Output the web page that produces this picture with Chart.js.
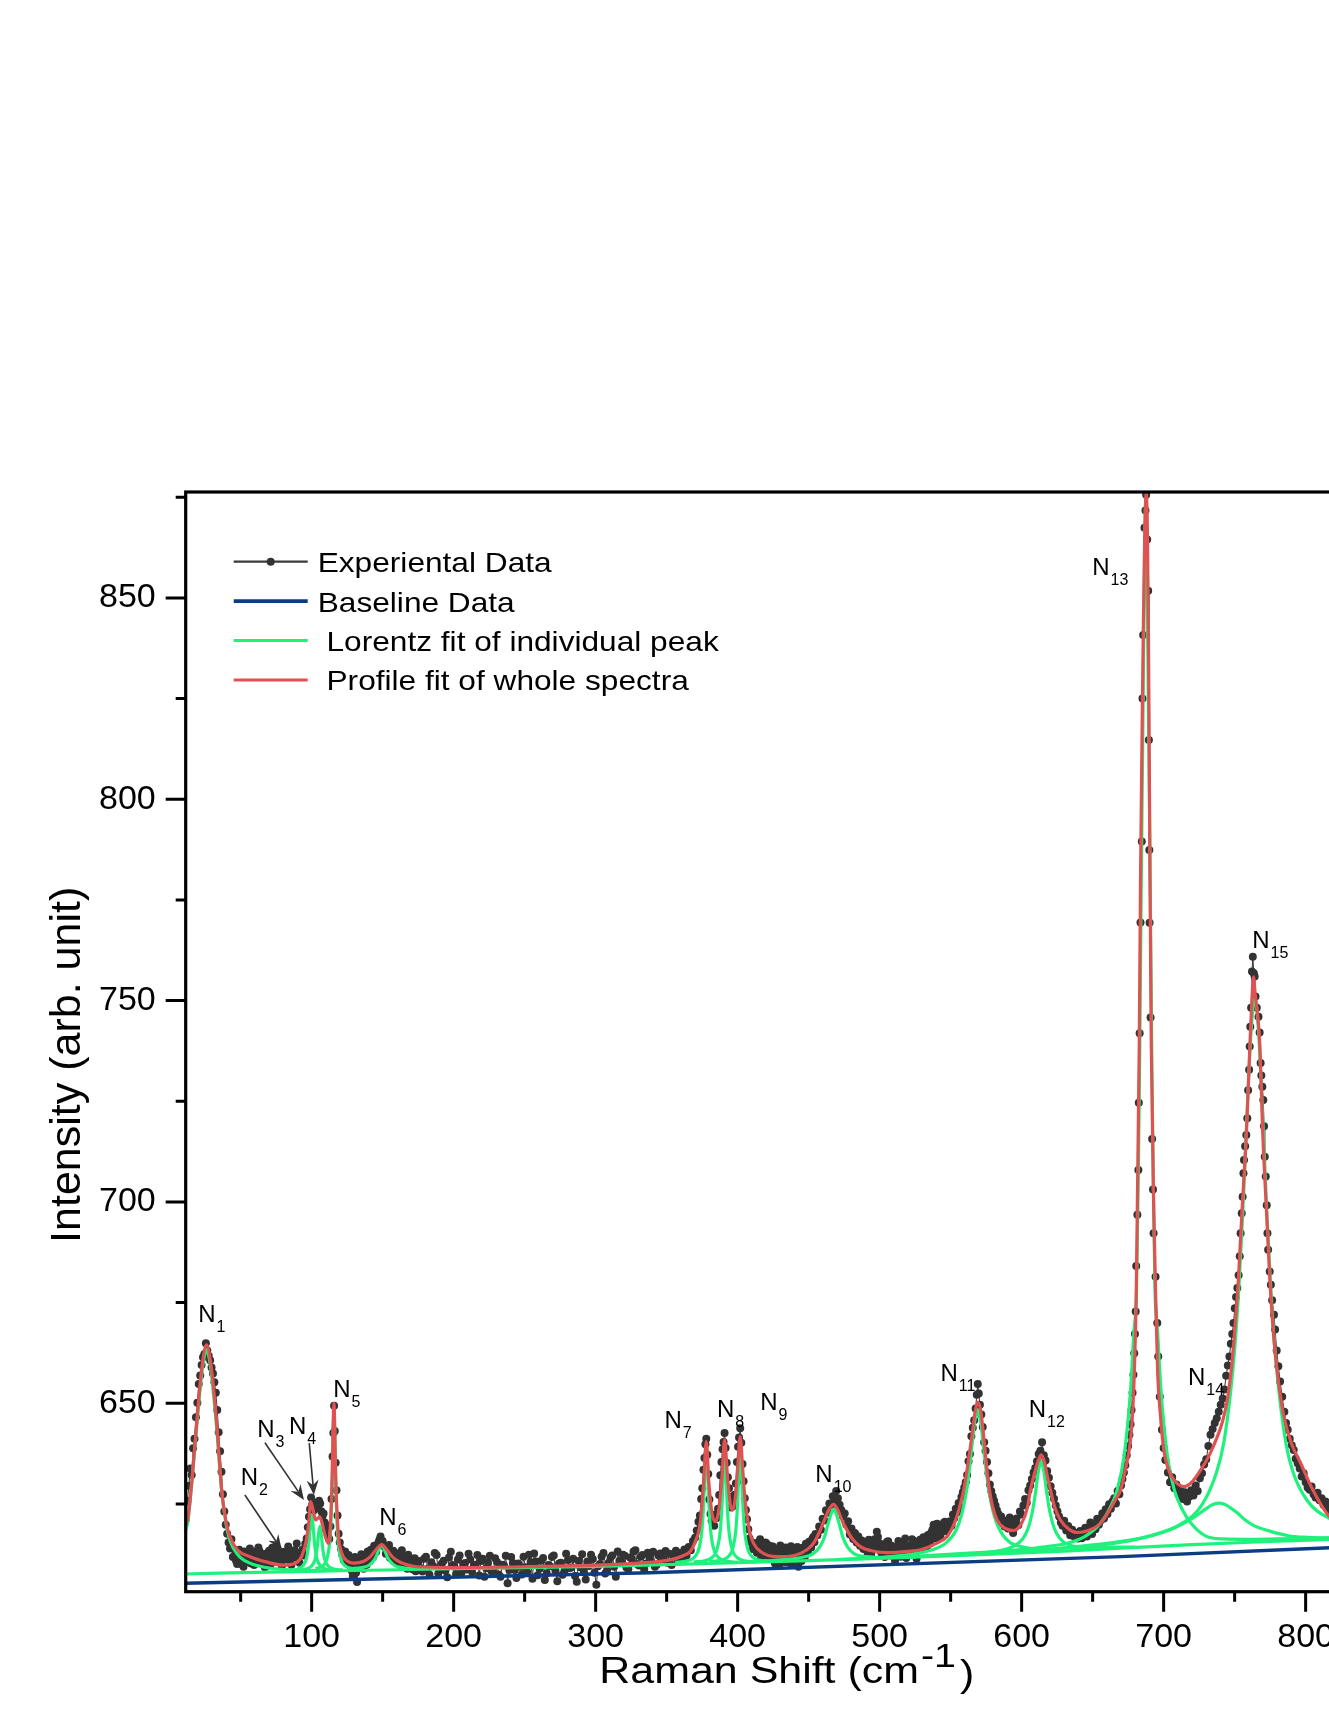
<!DOCTYPE html>
<html lang="en">
<head>
<meta charset="UTF-8">
<title>Raman spectrum - Lorentz peak fit</title>
<script src="https://cdn.jsdelivr.net/npm/chart.js"></script>
<style>
  html, body { margin: 0; padding: 0; background: #fff; overflow: hidden; }
  #wrap { position: relative; width: 1420px; height: 1719px; }
</style>
</head>
<body>
<div id="wrap"><canvas id="ramanChart" width="1420" height="1719"></canvas></div>
<script>
const FONT = "'Liberation Sans', Arial, Helvetica, sans-serif";

// axis ranges and ticks
const xRange = [11.3, 858];
const yRange = [603.2, 876.3];
const xTickValues = [50, 100, 150, 200, 250, 300, 350, 400, 450, 500, 550, 600, 650, 700, 750, 800, 850];
const yTickValues = [625, 650, 675, 700, 725, 750, 775, 800, 825, 850, 875];

// measured spectrum [Raman shift, intensity]
const experimental = [
  [11.5, 621.2], [12.5, 625.8], [13.5, 629.5], [14.5, 633.8], [15.5, 632.2], [16.5, 638.8], [17.5, 641.2], [18.5, 646.5],
  [19.5, 650.1], [20.5, 654.8], [21.5, 656.9], [22.5, 659.5], [23.5, 661.4], [24.5, 662.2], [25.5, 664.9], [26.5, 663.1],
  [27.5, 661.8], [28.5, 660.7], [29.5, 658.9], [30.5, 657.4], [31.5, 655.2], [32.5, 652.6], [33.5, 648.3], [34.5, 642.8],
  [35.5, 638.1], [36.5, 633.0], [37.5, 627.4], [38.5, 623.1], [39.5, 619.8], [40.5, 617.6], [41.5, 615.4], [42.5, 613.9],
  [43.5, 616.2], [44.5, 611.8],
  [46, 612.4], [47.5, 610.1], [49, 613.6], [50.5, 611.2], [52, 609.4], [53.5, 612.8], [55, 610.6], [56.5, 613.9],
  [58, 611.5], [59.5, 609.8], [61, 612.1], [62.5, 614.2], [64, 610.9], [65.5, 612.5], [67, 609.3], [68.5, 611.7],
  [70, 613.4], [71.5, 610.2], [73, 612.9], [74.5, 611.1], [76, 614.0], [77.5, 612.2], [79, 609.6], [80.5, 613.1],
  [82, 611.4], [83.5, 614.4], [85, 610.8], [86.5, 612.6], [88, 613.5], [89.5, 615.2],
  [90.5, 611.8], [91.5, 610.4], [92.5, 612.9], [93.5, 613.6], [94.5, 612.2], [95.5, 615.1], [96.5, 616.4], [97.3, 619.2],
  [98.1, 621.8], [98.9, 623.7], [99.6, 626.6], [100.4, 624.9], [101.2, 623.3], [102, 624.1], [102.8, 625.3], [103.6, 624.6],
  [104.4, 623.9], [105.2, 625.8], [106, 625.1], [106.8, 623.2], [107.6, 621.9], [108.4, 622.6], [109.2, 620.4], [110, 618.7],
  [110.8, 619.5], [111.6, 617.1], [112.4, 616.3], [113.2, 619.4], [114, 626.2], [114.7, 636.8], [115.3, 642.6], [115.8, 649.4],
  [116.3, 643.1], [116.9, 635.2], [117.5, 628.4], [118.2, 622.1], [119, 617.6], [119.8, 615.4], [120.7, 613.8], [121.6, 612.3],
  [122.6, 611.1], [123.6, 613.2], [124.6, 610.4],
  [126, 612.3], [127.5, 609.6], [129, 607.1], [130.5, 611.8], [132, 605.6], [133.5, 610.2], [135, 612.5], [136.5, 608.9],
  [138, 611.6], [139.5, 613.2], [141, 610.8], [142.5, 612.9], [144, 614.6], [145.5, 613.1], [147, 615.4], [148.5, 616.9],
  [150, 615.8], [151.5, 614.3], [153, 613.2], [154.5, 614.8], [156, 612.1], [157.5, 613.4], [159, 611.2], [160.5, 612.7],
  [162, 610.3], [163.5, 613.5], [165, 611.6], [166.5, 609.2], [168, 612.4], [169.5, 610.7], [171, 608.8], [172.5, 611.5],
  [174, 609.9],
  [175.5, 610.8], [178, 608.2], [180.5, 611.9], [183, 607.4], [185.5, 609.6], [188, 612.3], [190.5, 608.7], [193, 610.9],
  [195.5, 606.8], [198, 613.1], [200.5, 609.4], [203, 611.2], [205.5, 607.9], [208, 610.3], [210.5, 612.6], [213, 608.1],
  [215.5, 609.9], [218, 607.2], [220.5, 611.4], [223, 609.0], [225.5, 612.1], [228, 608.4], [230.5, 610.6], [233, 606.9],
  [235.5, 609.7], [238, 605.3], [240.5, 611.8], [243, 608.6], [245.5, 610.2], [248, 607.5], [250.5, 609.3], [253, 612.4],
  [255.5, 606.4], [258, 610.7], [260.5, 608.9], [263, 611.6], [265.5, 607.8], [268, 609.5], [270.5, 612.2], [273, 605.8],
  [275.5, 610.4], [278, 608.3], [280.5, 611.1], [283, 609.2], [285.5, 607.1], [288, 610.8], [290.5, 612.5], [293, 606.2],
  [295.5, 609.6], [298, 611.3], [300.5, 604.9], [303, 610.1], [305.5, 612.8], [308, 608.5], [310.5, 611.7], [313, 609.4],
  [315.5, 613.2], [318, 610.6], [320.5, 612.1], [323, 608.8], [325.5, 611.4], [328, 613.5], [330.5, 609.7], [333, 612.3],
  [335.5, 610.2], [338, 611.6], [340.5, 613.1], [343, 609.9], [345.5, 612.7], [348, 611.3],
  [350.5, 610.4], [352, 612.6], [353.5, 609.8], [355, 611.9], [356.5, 613.4], [358, 610.7], [359.5, 612.8], [361, 611.2],
  [362.5, 613.7], [364, 612.1], [365.5, 614.3], [367, 613.5], [368.5, 615.8], [370, 616.6], [371.2, 618.4], [372.4, 620.6],
  [373.4, 622.1], [374.3, 626.2], [375.1, 628.9], [375.9, 633.5], [376.6, 636.4], [377.3, 639.8], [377.9, 641.2],
  [378.6, 637.2], [379.3, 632.4], [380.1, 626.1], [380.9, 622.5], [381.7, 620.8], [382.6, 621.9], [383.5, 619.6], [384.4, 622.4],
  [385.3, 621.5], [386.2, 623.8], [387, 627.2], [387.8, 632.1], [388.6, 635.4], [389.4, 638.6], [390.1, 640.4], [390.8, 642.6],
  [391.5, 638.9], [392.3, 635.2], [393.1, 631.6], [393.9, 628.9], [394.7, 626.7], [395.5, 624.1], [396.3, 625.8], [397.1, 624.5],
  [397.9, 627.3], [398.7, 630.1], [399.5, 635.4], [400.3, 639.2], [401, 641.5], [401.8, 643.8], [402.6, 640.2], [403.4, 634.9],
  [404.2, 630.6], [405, 626.4], [405.8, 623.5], [406.6, 621.2], [407.5, 618.7], [408.4, 616.4], [409.4, 615.5], [410.4, 613.8],
  [411.4, 614.6],
  [412.8, 615.3], [414.3, 613.6], [415.8, 616.2], [417.3, 614.1], [418.8, 612.4], [420.3, 615.2], [421.8, 613.3], [423.3, 611.8],
  [424.8, 614.4], [426.3, 610.2], [427.8, 612.8], [429.3, 609.6], [430.8, 613.1], [432.3, 611.4], [433.8, 614.2], [435.3, 610.5],
  [436.8, 612.6], [438.3, 609.8], [439.8, 613.5], [441.3, 611.2], [442.8, 609.4], [444.3, 612.3], [445.8, 614.1], [447.3, 611.9],
  [448.8, 613.8], [450.3, 615.6], [451.8, 614.2], [453.3, 616.8], [454.8, 617.5],
  [456.2, 617.2], [457.4, 619.4], [458.6, 618.6], [459.8, 621.3], [461, 620.9], [462.2, 623.4], [463.4, 622.8], [464.6, 625.1],
  [465.8, 624.6], [467, 626.9], [468.2, 625.7], [469.4, 628.2], [470.6, 626.4], [471.8, 624.8], [473, 623.5], [474.2, 621.9],
  [475.4, 622.6], [476.6, 619.8], [477.8, 620.7], [479, 617.4], [480.2, 618.9], [481.4, 616.3], [482.6, 617.8], [483.8, 615.4],
  [485, 616.9], [486.2, 614.6], [487.4, 615.9], [488.6, 613.8],
  [490, 615.1], [491.6, 612.6], [493.2, 614.8], [494.8, 613.4], [496.4, 616.2], [498, 618.1], [499.6, 615.3], [501.2, 612.8],
  [502.8, 614.6], [504.4, 613.1], [506, 615.7], [507.6, 612.2], [509.2, 613.9], [510.8, 610.9], [512.4, 614.3], [514, 612.6],
  [515.6, 615.4], [517.2, 613.2], [518.8, 611.6], [520.4, 614.7], [522, 613.5], [523.6, 615.9], [525.2, 612.9], [526.8, 614.2],
  [528.4, 616.1], [530, 613.7], [531.6, 615.8], [533.2, 614.4], [534.8, 616.6], [536.4, 617.9], [538, 619.8], [539.6, 616.4],
  [541.2, 618.6], [542.8, 617.2], [544.4, 619.1], [546, 620.6], [547.6, 619.4],
  [548.6, 618.9], [549.6, 620.7], [550.6, 619.6], [551.6, 622.4], [552.6, 621.5], [553.6, 623.8], [554.6, 622.9], [555.6, 625.2],
  [556.6, 624.1], [557.6, 626.7], [558.6, 627.9], [559.6, 629.1], [560.6, 630.4], [561.6, 632.2], [562.6, 635.6], [563.6, 637.4],
  [564.6, 641.8], [565.6, 643.9], [566.6, 645.8], [567.6, 648.7], [568.4, 652.1], [569.1, 654.8], [569.8, 652.4], [570.6, 649.6],
  [571.6, 647.2], [572.6, 644.1], [573.6, 640.3], [574.6, 638.2], [575.6, 635.4], [576.6, 632.6], [577.6, 629.8], [578.6, 628.2],
  [579.6, 626.9], [580.6, 625.8], [581.6, 624.6], [582.6, 623.4], [583.6, 622.5], [584.6, 621.2], [585.6, 621.9], [586.8, 620.1],
  [588, 619.4], [589.2, 620.8], [590.4, 618.9], [591.6, 621.6], [592.8, 620.3], [594, 617.8], [595.2, 619.2],
  [596.4, 621.4], [597.6, 619.7], [598.8, 623.1], [600, 622.4], [601.2, 624.6], [602.4, 626.2], [603.6, 625.3], [604.8, 628.4],
  [606, 629.6], [607.2, 631.2], [608.4, 632.8], [609.6, 633.9], [610.8, 635.6], [612, 637.4], [613.2, 638.2], [614.4, 640.3],
  [615.6, 637.1], [616.8, 635.8], [618, 633.2], [619.2, 631.5], [620.4, 629.4], [621.6, 627.8], [622.8, 626.3], [624, 624.6],
  [625.2, 623.2], [626.4, 621.9], [627.6, 620.4], [628.8, 619.6], [630, 620.8], [631.4, 618.4], [632.8, 619.5], [634.2, 617.2],
  [635.6, 618.6], [637, 616.9], [638.4, 617.8], [639.8, 616.4],
  [641.2, 618.3], [642.4, 616.5], [643.6, 617.6], [644.8, 619.1], [646, 616.9], [647.2, 618.2], [648.4, 620.4], [649.6, 617.5],
  [650.8, 619.6], [652, 618.7], [653.2, 621.3], [654.4, 619.8], [655.6, 620.9], [656.8, 622.6], [658, 621.4], [659.2, 623.7],
  [660.4, 622.5], [661.6, 624.9], [662.8, 623.8], [664, 625.6], [665.2, 626.4], [666.4, 625.1], [667.6, 628.2], [668.8, 627.4],
  [670, 629.6], [671, 631.2], [672, 632.8], [673, 634.6], [674, 637.1], [675, 639.4], [675.9, 642.2], [676.7, 644.8],
  [677.4, 648.3], [678.1, 652.6], [678.7, 657.1], [679.3, 662.4], [679.8, 667.2], [680.3, 672.8],
  [680.7, 684.1], [681.5, 696.8], [682.2, 707.9], [682.5, 724.6], [683.1, 741.9], [683.7, 769.4], [684.6, 789.5], [685.1, 825.0],
  [685.6, 840.8], [686.5, 867.4], [687.2, 871.7], [687.7, 875.6], [688.4, 864.5], [689.1, 851.8], [689.6, 814.7], [689.9, 787.4],
  [690.1, 769.3], [690.8, 745.8], [691.9, 715.6], [692.5, 703.1], [692.9, 692.2], [694.3, 681.4], [695.5, 669.9], [696.2, 661.6],
  [697.3, 651.6], [698.8, 643.4], [700.0, 638.9], [701.2, 635.9],
  [703, 632.8], [704.5, 630.4], [706, 631.6], [707.5, 628.9], [709, 629.8], [710.5, 627.4], [712, 628.5], [713.5, 626.2],
  [715, 627.9], [716.5, 625.6], [718, 626.8], [719.5, 628.4], [721, 627.1], [722.5, 629.6], [724, 628.2], [725.5, 631.4],
  [727, 632.6], [728.5, 634.8], [730, 636.1], [731.5, 639.4], [733, 642.2], [734.5, 643.6], [736, 645.1], [737.4, 646.3],
  [738.8, 647.9], [740.2, 649.6], [741.6, 651.2], [742.8, 653.4], [744, 656.8], [745.2, 659.4], [746.3, 661.6], [747.3, 664.8],
  [748.3, 667.2], [749.2, 669.9], [750.1, 673.6], [751, 676.4], [751.9, 678.6], [752.8, 681.8], [753.6, 686.5], [754.2, 692.2],
  [755, 697.2], [755.6, 701.3], [756.2, 707.1], [756.6, 710.4], [757.4, 713.8], [758.2, 716.6], [758.9, 720.8], [759.5, 727.7],
  [760.2, 732.8], [760.6, 738.6], [761, 743.5], [761.6, 748.2], [762.2, 757.2], [762.8, 760.9], [763.5, 756.8], [764.1, 756.0],
  [764.7, 751.0], [765.6, 748.2], [766.8, 746.0], [767.6, 742.1], [768.3, 734.5], [768.8, 731.4], [769.5, 728.6], [770.2, 725.3],
  [770.7, 718.8], [771.2, 711.2], [771.9, 706.3], [772.6, 699.2], [773.1, 692.2], [773.6, 688.1], [774.7, 682.7], [775.5, 679.4],
  [776.4, 675.6], [777.7, 672.0], [778.5, 668.3], [779.6, 663.1], [780.8, 659.2], [782, 655.4], [783.5, 651.6], [785, 647.9],
  [786.2, 645.1], [787.4, 643.4], [788.8, 641.2], [790.2, 639.6], [791.6, 638.4], [793, 636.2], [794.4, 635.1], [795.8, 633.8],
  [797.2, 631.8], [798.6, 632.6], [800, 630.4], [801.4, 629.1], [802.8, 628.5], [804.2, 629.3], [805.6, 627.4], [807, 626.6],
  [808.4, 627.8], [809.8, 625.9], [811.2, 626.4], [812.6, 624.8], [814, 625.6], [815.4, 623.9], [816.8, 624.6], [818.2, 622.8],
  [820, 623.4], [822, 621.6], [824, 622.2], [826, 620.7], [828, 621.3], [830, 619.8], [833, 620.4], [836, 618.9],
  [839, 619.6], [842, 618.2], [845, 618.8], [848, 617.5], [851, 618.1], [854, 616.9], [857, 617.4]
];

// further readings from the dense flat stretches of the spectrum
const experimentalFill = [
  [46.75, 610.9], [48.25, 612.7], [49.75, 611.6], [51.25, 609.9], [52.75, 613.2], [54.25, 611.1], [55.75, 612.4], [57.25, 610.2],
  [58.75, 613.1], [60.25, 611.9], [61.75, 610.5], [63.25, 613.3], [64.75, 611.8], [66.25, 610.1], [67.75, 612.6], [69.25, 609.7],
  [70.75, 612.2], [72.25, 614.1], [73.75, 611.5], [75.25, 613.6], [76.75, 612.3], [78.25, 610.6], [79.75, 612.8], [81.25, 611.2],
  [82.75, 613.2], [84.25, 612.1], [85.75, 609.9], [87.25, 611.7],
  [126.75, 610.6], [128.25, 608.4], [129.75, 610.3], [131.25, 607.9], [132.75, 611.4], [134.25, 609.6], [135.75, 610.7], [137.25, 612.2],
  [138.75, 609.9], [140.25, 611.4], [141.75, 613.6], [143.25, 611.8], [144.75, 613.9], [146.25, 614.6], [147.75, 616.1], [149.25, 615.2],
  [150.75, 614.8], [152.25, 612.6], [153.75, 613.9], [155.25, 611.6], [156.75, 612.9], [158.25, 610.8], [159.75, 611.5], [161.25, 612.2],
  [162.75, 609.8], [164.25, 610.9], [165.75, 611.8], [167.25, 608.9], [168.75, 610.6], [170.25, 609.4], [171.75, 611.1], [173.25, 608.3],
  [176.7, 609.1], [179.2, 611.4], [181.7, 608.9], [184.2, 610.5], [186.7, 612.8], [189.2, 607.7], [191.7, 610.2], [194.2, 608.4],
  [196.7, 611.7], [199.2, 609.8], [201.7, 607.6], [204.2, 612.2], [206.7, 610.1], [209.2, 608.7], [211.7, 611.2], [214.2, 609.6],
  [216.7, 612.3], [219.2, 610.8], [221.7, 606.9], [224.2, 610.4], [226.7, 608.2], [229.2, 611.5], [231.7, 607.5], [234.2, 609.9],
  [236.7, 612.1], [239.2, 608.6], [241.7, 610.3], [244.2, 606.6], [246.7, 609.4], [249.2, 611.9], [251.7, 608.1], [254.2, 610.6],
  [256.7, 612.7], [259.2, 607.3], [261.7, 610.9], [264.2, 606.1], [266.7, 609.8], [269.2, 611.8], [271.7, 608.4], [274.2, 610.2],
  [276.7, 607.4], [279.2, 612.6], [281.7, 609.1], [284.2, 611.4], [286.7, 605.7], [289.2, 609.3], [291.7, 608.2], [294.2, 610.7],
  [296.7, 612.4], [299.2, 607.9], [301.7, 609.5], [304.2, 611.9], [306.7, 607.7], [309.2, 610.4], [311.7, 612.2], [314.2, 606.9],
  [316.7, 610.8], [319.2, 612.4], [321.7, 609.2], [324.2, 611.7], [326.7, 613.2], [329.2, 610.1], [331.7, 611.9], [334.2, 608.7],
  [336.7, 612.9], [339.2, 610.6], [341.7, 609.4], [344.2, 612.2], [346.7, 610.9], [349.2, 613.3],
  [413.55, 612.9], [415.05, 614.8], [416.55, 611.6], [418.05, 613.7], [419.55, 615.4], [421.05, 612.1], [422.55, 614.6], [424.05, 613.0],
  [425.55, 610.9], [427.05, 613.6], [428.55, 611.3], [430.05, 614.7], [431.55, 612.4], [433.05, 610.6], [434.55, 613.2], [436.05, 612.0],
  [437.55, 614.5], [439.05, 611.6], [440.55, 612.9], [442.05, 614.3], [443.55, 613.1], [445.05, 610.8], [446.55, 612.7], [448.05, 615.1],
  [449.55, 613.3], [451.05, 614.9], [452.55, 616.3], [454.05, 615.5],
  [490.8, 613.8], [492.4, 616.1], [494, 612.2], [495.6, 615.4], [497.2, 614.1], [498.8, 616.8], [500.4, 613.6], [502, 614.9],
  [503.6, 611.8], [505.2, 615.6], [506.8, 613.9], [508.4, 614.6], [510, 612.4], [511.6, 613.3], [513.2, 615.8], [514.8, 611.9],
  [516.4, 614.1], [518, 616.4], [519.6, 612.7], [521.2, 613.6], [522.8, 616.2], [524.4, 614.3], [526, 611.4], [527.6, 615.1],
  [529.2, 613.8], [530.8, 616.7], [532.4, 614.5], [534, 617.3], [535.6, 615.2], [537.2, 618.6], [538.8, 617.4], [540.4, 620.1],
  [542, 616.9], [543.6, 618.4], [545.2, 620.3], [546.8, 618.2]
];

const baselineData = [[11.3, 605.3], [338, 607.9], [670, 611.9], [817, 614.1], [858, 614.6]];

const profileFit = [
  [11.3, 619.8], [13, 621.8], [16, 632], [19, 645], [22.5, 658.3], [26, 664.5], [29.5, 658.3], [33.1, 645],
  [36.6, 628.5], [39.5, 621], [42.4, 616.9], [48, 613.5], [56.5, 611.9], [68, 610.6], [80, 609.8], [88, 610.2],
  [93, 612], [96, 615.5], [98, 620.5], [99.3, 625.6], [101, 623.5], [102.8, 621.0], [104.5, 621.5], [105.8, 621.8],
  [107.5, 620], [109.5, 617], [111.7, 615.2], [113, 618.5], [114.3, 630], [115.7, 650], [117, 631], [118.8, 617.5],
  [121, 613], [124.7, 610.9], [130, 610.3], [136.4, 610.7], [141, 611.8], [145, 613.5], [149.3, 614.9], [153, 613.6],
  [156.5, 612], [160, 611], [166, 610], [174, 609.4], [200, 609.2], [250, 609.4], [300, 609.8], [330, 610.3],
  [352.5, 611.1], [362, 612.2], [366.6, 613.2], [370, 615.5], [373.6, 620.2], [376, 630], [377.9, 640.5], [379.8, 630],
  [382, 622.5], [384.2, 620.6], [386.5, 623], [388.8, 631], [390.8, 641], [393, 631], [395, 624.5], [396.5, 623.5],
  [398.5, 627], [400, 634], [401.8, 641.7], [403.5, 634], [405.2, 626], [406.6, 622], [408.5, 618], [411.2, 615.2],
  [416, 613.2], [427.7, 611.9], [440, 612.2], [448.8, 613.6], [454, 615.5], [458.2, 618.5], [462, 621.8], [465, 624],
  [467.6, 624.9], [470.5, 623.5], [474, 620.5], [477, 618.5], [481, 616.2], [486.4, 614.4], [495, 613.3], [505.2, 612.9],
  [520, 613.2], [528.7, 613.6], [540, 615.2], [547.5, 616.9], [553, 620.5], [556.5, 624.5], [559.2, 628.5], [562, 634.5],
  [565, 642], [567.3, 648], [569.1, 650.3], [571, 648.5], [573.5, 641], [575.7, 633], [578.5, 626], [582.7, 621],
  [588, 619], [594.4, 618.4], [600, 620.2], [604, 624], [606.2, 628.5], [609, 632.5], [611.5, 635.5], [613.7, 637.2],
  [616, 635.5], [618, 632], [620.3, 628.5], [623, 624.5], [627.3, 621], [633, 618.8], [639.1, 617.9], [647, 618.4],
  [655.5, 620.2], [662, 623.5], [666, 626], [669.8, 628.5], [673, 633.5], [676.7, 640.9], [678.5, 650], [679.7, 661.6],
  [680.7, 677], [681.4, 697.2], [682.8, 738.6], [683.7, 780], [684.6, 810], [685.6, 840.4], [686.7, 866], [687.7, 876],
  [688.6, 866], [689.3, 840.4], [689.9, 810], [690.4, 780], [691.3, 738.6], [693.1, 697.2], [694.4, 676.5], [695.8, 657.5],
  [697.5, 648], [700.1, 638.4], [703.5, 633.5], [707.2, 631.0], [714.2, 629.3], [720, 630.5], [726, 633.4], [732, 637],
  [737.8, 641.7], [741.5, 645.5], [744.8, 650.8], [747.5, 658], [749.5, 665.7], [752.6, 680.6], [755.1, 697.2], [758.4, 717.9],
  [760.7, 738.6], [762.2, 750.5], [763.3, 755.9], [764.5, 751.5], [766, 747], [767.8, 738.6], [769.7, 717.9], [772.5, 697.2],
  [774.8, 680.6], [777.7, 665.7], [781, 655], [784.7, 646.7], [790, 640], [796.5, 635.1], [805, 628.5], [816.9, 621.8],
  [828, 620.4], [840, 619.4], [858, 618.4]
];

// individual Lorentz components (green)
const lorentzFloor = [[11.3, 607.6], [60, 608.0], [120, 608.4], [200, 608.9], [300, 609.5], [380, 610.2], [450, 610.9],
  [520, 611.7], [580, 612.5], [630, 613.3], [670, 614.0], [720, 614.9], [770, 615.6], [817, 616.2], [858, 616.6]];
const lorentzN1 = [[11.3, 618.5], [13, 621], [16, 632], [19, 644], [22.5, 657], [24.5, 661.8], [26, 663.3], [27.5, 661.8],
  [29.5, 657], [33.1, 643.8], [36.6, 628.4], [39.5, 620.5], [42.4, 616], [48, 612.4], [56.5, 610.3], [68, 609.2], [85, 608.6], [110, 608.4]];
const lorentzN3 = [[84, 608.5], [90, 608.8], [94, 609.7], [96, 611.1], [97, 612.6], [98, 615.3], [99, 619.5], [100, 622.3],
  [101, 619.5], [102, 615.3], [103, 612.6], [104, 611.1], [106, 609.7], [110, 608.8], [116, 608.5]];
const lorentzN4 = [[90, 608.6], [95.8, 608.8], [99.8, 609.5], [101.8, 610.6], [102.8, 611.8], [103.8, 613.9], [104.8, 617.3], [105.8, 619.5],
  [106.8, 617.3], [107.8, 613.9], [108.8, 611.8], [109.8, 610.6], [111.8, 609.5], [115.8, 608.8], [122, 608.6]];
const lorentzN5 = [[102.7, 608.9], [107.7, 609.6], [110.7, 611.3], [112.7, 615.6], [113.7, 621.6], [114.2, 627], [114.7, 634.9], [115.2, 643.9],
  [115.7, 648.4], [116.2, 643.9], [116.7, 634.9], [117.2, 627], [117.7, 621.6], [118.7, 615.6], [120.7, 611.3], [123.7, 609.6], [128.7, 608.9]];
const lorentzN6 = [[127, 608.9], [135, 609.2], [140, 609.7], [143, 610.6], [145.3, 611.8], [147.3, 613.6], [149.3, 614.8], [151.3, 613.6],
  [153.3, 611.8], [155.6, 610.6], [158.6, 609.7], [163.6, 609.2], [172, 608.9]];
const lorentzN7 = [[356, 610.5], [364, 610.8], [369, 611.6], [372, 613.1], [374, 616], [375, 619.1], [376, 624.7], [377, 633.4], [377.9, 639.2],
  [378.8, 633.4], [379.8, 624.7], [380.8, 619.1], [381.8, 616], [383.8, 613.1], [386.8, 611.6], [391.8, 610.8], [400, 610.5]];
const lorentzN8 = [[369, 610.6], [377, 610.9], [382, 611.7], [385, 613.2], [387, 616.2], [388, 619.3], [389, 624.9], [390, 633.9], [390.8, 639.8],
  [391.6, 633.9], [392.6, 624.9], [393.6, 619.3], [394.6, 616.2], [396.6, 613.2], [399.6, 611.7], [404.6, 610.9], [413, 610.6]];
const lorentzN9 = [[380, 610.7], [388, 611.0], [393, 611.8], [396, 613.3], [398, 616.4], [399, 619.6], [400, 625.4], [401, 634.6], [401.8, 640.9],
  [402.6, 634.6], [403.6, 625.4], [404.6, 619.6], [405.6, 616.4], [407.6, 613.3], [410.6, 611.8], [415.6, 611.0], [424, 610.7]];
const lorentzN10 = [[415, 610.7], [432.2, 611.2], [445, 611.7], [453, 612.6], [458, 614.4], [461.1, 616.7], [463.1, 619.3], [465.5, 622.2], [467.6, 623.7],
  [469.7, 622.2], [472.1, 619.3], [474.1, 616.7], [477.2, 614.4], [482.2, 612.6], [490.2, 611.9], [503, 611.7], [525, 611.8]];
const lorentzN11 = [[500, 611.6], [524, 612.6], [537, 613.6], [547, 615.4], [554, 618.6], [558, 622.7], [561, 627.9], [563, 633.1], [565, 639.4], [567, 645.6],
  [569.1, 648.4], [571.1, 645.6], [573.1, 639.4], [575.1, 633.1], [577.1, 627.9], [580.1, 622.8], [584.1, 618.8], [591.1, 615.6], [601.1, 614.3], [614.1, 613.6]];
const lorentzN12 = [[560, 612.4], [581.7, 613.2], [593.7, 614.4], [600.7, 616.3], [604.7, 619.1], [607.7, 623.3], [609.7, 627.7], [611.7, 632.9], [613.7, 635.5],
  [615.7, 632.9], [617.7, 627.7], [619.7, 623.3], [622.7, 619.2], [626.7, 616.5], [633.7, 614.8], [645.7, 614.2], [680, 614.3]];
const lorentzN13 = [[470, 611.2], [530, 612.1], [560, 612.7], [590, 613.4], [615, 614.3], [632.9, 615.3], [645, 617], [655.5, 620.2], [661.5, 623.5], [667.3, 628.5],
  [672.1, 636.7], [676.7, 653.3], [679, 667.4], [680.9, 678.1], [682.1, 705], [683.1, 735], [684, 770], [685, 805], [686, 840], [686.6, 862],
  [687.4, 874], [688.2, 862], [688.8, 840], [689.8, 805], [690.8, 770], [691.7, 735], [692.7, 705], [693.9, 678.1], [695.8, 667.4], [698.1, 653.3],
  [702.7, 636.7], [707.5, 628.5], [713.3, 623.5], [719.3, 620.2], [729.8, 617], [741.9, 616.3], [760, 616.2], [790, 616.4], [830, 616.7], [858, 616.9]];
const lorentzN14 = [[560, 612.4], [590, 613.1], [620, 613.8], [650, 614.6], [676.7, 615.9], [690, 617], [703.6, 618.5], [714.2, 620.2], [721, 621.6], [726, 622.8], [731, 624.1],
  [735, 624.9], [738.9, 625.2], [742.8, 624.9], [746.8, 624.1], [751.8, 622.8], [756.8, 621.2], [763.6, 619.6], [774.2, 618.3], [787.8, 617.1],
  [801, 616.7], [830, 616.4], [858, 616.5]];
const lorentzN15 = [[540, 612.1], [570, 612.6], [600, 613.1], [630.2, 614.1], [670.2, 615.7], [691.2, 617.1], [711.2, 619.8], [727.2, 624.9], [737.2, 632.8], [742.2, 639.9],
  [747.2, 652.9], [750.2, 664.1], [753.2, 680.1], [755.7, 697.1], [757.7, 713.5], [759.7, 729.5], [761.7, 743.1], [764.2, 750.6], [766.7, 743.1],
  [768.7, 729.5], [770.7, 713.5], [772.7, 697.1], [775.2, 680.1], [778.2, 664.1], [781.2, 652.9], [786.2, 639.9], [791.2, 632.8], [801.2, 625.8],
  [817.2, 621.3], [837.2, 619.2], [858, 618.2]];
const lorentzCurves = [lorentzFloor, lorentzN1, lorentzN3, lorentzN4, lorentzN5, lorentzN6, lorentzN7, lorentzN8, lorentzN9,
  lorentzN10, lorentzN11, lorentzN12, lorentzN13, lorentzN14, lorentzN15];

// peak names: [index, shift, intensity] of the "N" baseline, and arrows [from x, from y, to x, to y]
const peakLabels = [['1', 20.1, 670.3], ['2', 50.0, 629.7], ['3', 61.7, 641.7], ['4', 84.0, 642.4], ['5', 115.2, 651.5],
  ['6', 147.6, 619.8], ['7', 348.5, 643.8], ['8', 385.4, 646.5], ['9', 415.9, 648.2], ['10', 454.7, 630.4],
  ['11', 542.8, 655.6], ['12', 605.0, 646.7], ['13', 649.7, 855.7], ['14', 717.1, 654.5], ['15', 762.4, 763.1]];
const peakArrows = [[53.0, 627.2, 78.9, 613.6], [67.1, 640.2, 94.6, 626.0], [98.3, 640.1, 101.6, 627.2]];

const RED = '#e05252';
const GREEN = '#1ff27c';
const BLUE = '#0a3d82';
const DARK = '#333333';

const toXY = arr => arr.map(p => ({ x: p[0], y: p[1] }));
const measured = experimental.concat(experimentalFill).sort((p, q) => p[0] - q[0]);

const datasets = [
  { label: ' Profile fit of whole spectra', data: toXY(profileFit), borderColor: RED, borderWidth: 3.2,
    pointRadius: 0, showLine: true, cubicInterpolationMode: 'monotone', order: 0, legendRow: 3 },
  { label: 'Baseline Data', data: toXY(baselineData), borderColor: BLUE, borderWidth: 3.4,
    pointRadius: 0, showLine: true, order: 1, legendRow: 1 },
  ...lorentzCurves.map((c, i) => ({ label: ' Lorentz fit of individual peak', data: toXY(c), borderColor: GREEN,
    borderWidth: 3.2, pointRadius: 0, showLine: true, cubicInterpolationMode: 'monotone', order: 2,
    legendRow: i === 0 ? 2 : null })),
  { label: 'Experiental Data', data: toXY(measured), borderColor: DARK, backgroundColor: DARK, borderWidth: 1,
    pointRadius: 4, pointBorderWidth: 0, pointBackgroundColor: DARK, showLine: true, order: 3, legendRow: 0 }
];

// frame, tick marks, peak names, legend and axis titles
const originStyle = {
  id: 'originStyle',
  afterDatasetsDraw(chart) {
    const { ctx, chartArea: a, scales: { x, y } } = chart;
    ctx.save();

    // box and outward ticks
    ctx.strokeStyle = '#000';
    ctx.lineWidth = 3.2;
    ctx.strokeRect(a.left, a.top, a.right - a.left, a.bottom - a.top);
    ctx.lineWidth = 3;
    ctx.beginPath();
    xTickValues.forEach(v => {
      const px = x.getPixelForValue(v);
      const len = v % 100 === 0 ? 20 : 10;
      ctx.moveTo(px, a.bottom);
      ctx.lineTo(px, a.bottom + len);
    });
    yTickValues.forEach(v => {
      const py = y.getPixelForValue(v);
      const len = v % 50 === 0 ? 20 : 10;
      ctx.moveTo(a.left, py);
      ctx.lineTo(a.left - len, py);
    });
    ctx.stroke();

    // arrows to N2..N4
    ctx.strokeStyle = DARK;
    ctx.fillStyle = DARK;
    ctx.lineWidth = 1.6;
    peakArrows.forEach(([x0, y0, x1, y1]) => {
      const ax = x.getPixelForValue(x0), ay = y.getPixelForValue(y0);
      const bx = x.getPixelForValue(x1), by = y.getPixelForValue(y1);
      const ang = Math.atan2(by - ay, bx - ax);
      const c = Math.cos(ang), s = Math.sin(ang);
      ctx.beginPath();
      ctx.moveTo(ax, ay);
      ctx.lineTo(bx - 10 * c, by - 10 * s);
      ctx.stroke();
      ctx.beginPath();
      ctx.moveTo(bx, by);
      ctx.lineTo(bx - 15 * c + 6 * s, by - 15 * s - 6 * c);
      ctx.lineTo(bx - 10 * c, by - 10 * s);
      ctx.lineTo(bx - 15 * c - 6 * s, by - 15 * s + 6 * c);
      ctx.closePath();
      ctx.fill();
    });

    // peak names N with subscript
    ctx.fillStyle = '#000';
    ctx.textAlign = 'left';
    ctx.textBaseline = 'alphabetic';
    peakLabels.forEach(([n, xv, yv]) => {
      const px = x.getPixelForValue(xv), py = y.getPixelForValue(yv);
      ctx.font = `24px ${FONT}`;
      ctx.fillText('N', px, py);
      const w = ctx.measureText('N').width;
      ctx.font = `16px ${FONT}`;
      ctx.fillText(n, px + w + 1, py + 10);
    });

    // legend inside the box
    const lx = a.left + 48, ly0 = a.top + 69.7, rowH = 39.4;
    chart.data.datasets.filter(d => d.legendRow !== null && d.legendRow !== undefined).forEach(d => {
      const ly = ly0 + d.legendRow * rowH;
      ctx.strokeStyle = d.legendRow === 0 ? '#3a3a3a' : d.borderColor;
      ctx.lineWidth = d.legendRow === 0 ? 2.2 : (d.legendRow === 1 ? 3.6 : 3);
      ctx.beginPath();
      ctx.moveTo(lx, ly);
      ctx.lineTo(lx + 74, ly);
      ctx.stroke();
      if (d.legendRow === 0) {
        ctx.fillStyle = DARK;
        ctx.beginPath();
        ctx.arc(lx + 37, ly, 4, 0, Math.PI * 2);
        ctx.fill();
      }
      ctx.fillStyle = '#000';
      ctx.font = `28px ${FONT}`;
      ctx.save();
      ctx.translate(lx + 84, ly + 10.5);
      ctx.scale(1.13, 1);
      ctx.fillText(d.label, 0, 0);
      ctx.restore();
    });

    // y title
    ctx.save();
    ctx.translate(a.left - 105.7, (a.top + a.bottom) / 2 + 23);
    ctx.rotate(-Math.PI / 2);
    ctx.font = `43px ${FONT}`;
    ctx.textAlign = 'center';
    ctx.fillText('Intensity (arb. unit)', 0, 0);
    ctx.restore();

    // x title with superscript
    const sx = 1.16;
    ctx.font = `37px ${FONT}`;
    const main = 'Raman Shift (cm';
    const w1 = ctx.measureText(main).width * sx;
    const w3 = ctx.measureText(')').width * sx;
    ctx.font = `34px ${FONT}`;
    const w2 = ctx.measureText('-1').width * sx;
    const total = w1 + 2 + w2 + 4 + w3;
    const x0 = (a.left + a.right) / 2 - total / 2;
    const base = a.bottom + 91.6;
    const drawPart = (txt, px, py, size) => {
      ctx.save();
      ctx.font = `${size}px ${FONT}`;
      ctx.translate(px, py);
      ctx.scale(sx, 1);
      ctx.fillText(txt, 0, 0);
      ctx.restore();
    };
    drawPart(main, x0, base, 37);
    drawPart('-1', x0 + w1 + 2, base - 16.6, 34);
    drawPart(')', x0 + w1 + 2 + w2 + 4, base + 3, 37);

    ctx.restore();
  }
};

new Chart(document.getElementById('ramanChart'), {
  type: 'scatter',
  data: { datasets },
  options: {
    responsive: false,
    animation: false,
    devicePixelRatio: 1,
    layout: { padding: { top: 492, right: 32, left: 0, bottom: 0 } },
    plugins: { legend: { display: false }, tooltip: { enabled: false } },
    scales: {
      x: {
        type: 'linear',
        min: xRange[0],
        max: xRange[1],
        afterFit: s => { s.height = 127.3; },
        afterBuildTicks: s => { s.ticks = xTickValues.map(v => ({ value: v })); },
        grid: { display: false, drawTicks: false },
        border: { display: false },
        ticks: {
          autoSkip: false, maxRotation: 0, padding: 26, color: '#000',
          font: { family: FONT, size: 34 },
          callback: v => (v % 100 === 0 ? v : '')
        }
      },
      y: {
        type: 'linear',
        min: yRange[0],
        max: yRange[1],
        afterFit: s => { s.width = 185.7; },
        afterBuildTicks: s => { s.ticks = yTickValues.map(v => ({ value: v })); },
        grid: { display: false, drawTicks: false },
        border: { display: false },
        ticks: {
          autoSkip: false, padding: 30, color: '#000',
          font: { family: FONT, size: 34 },
          callback: v => (v % 50 === 0 ? v : '')
        }
      }
    }
  },
  plugins: [originStyle]
});
</script>
</body>
</html>
